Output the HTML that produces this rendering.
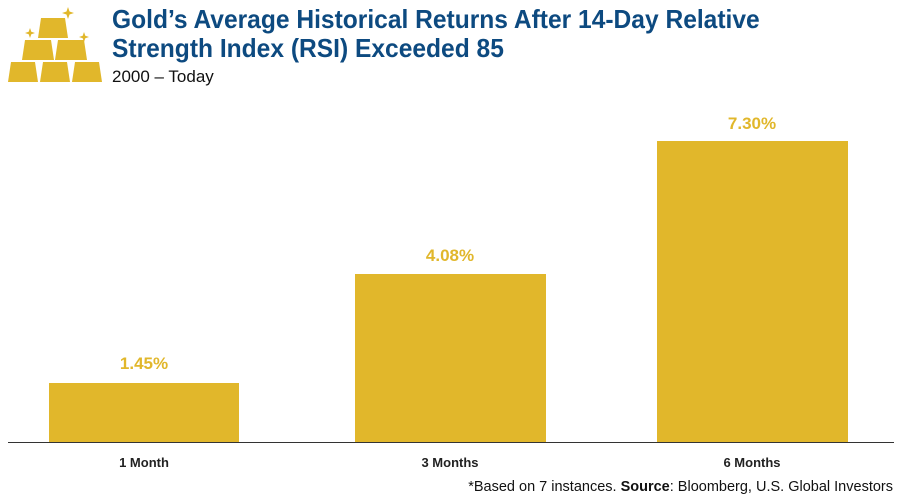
<!DOCTYPE html>
<html><head><style>
body{margin:0;width:900px;height:497px;background:#fff;position:relative;overflow:hidden;font-family:"Liberation Sans",sans-serif}
.t{position:absolute;left:112px;color:#0d4a80;font-family:"Liberation Sans",sans-serif;font-weight:bold;font-size:26px;white-space:nowrap;transform:scaleX(0.945);transform-origin:0 0}
.bar{position:absolute;background:#e1b72b;width:190px}
.v{position:absolute;width:190px;text-align:center;color:#e1b72b;font-weight:bold;font-size:17px}
.c{position:absolute;width:190px;text-align:center;font-size:13px;font-weight:bold;color:#222;top:455px}
</style></head><body>
<svg width="110" height="90" style="position:absolute;left:0;top:0">
<g fill="#e1b72b">
<polygon points="41,18 65,18 68,38 38,38"/>
<polygon points="25,40 51,40 54,60 22,60"/>
<polygon points="58,40 84,40 87,60 55,60"/>
<polygon points="11,62 35,62 38,82 8,82"/>
<polygon points="43,62 67,62 70,82 40,82"/>
<polygon points="75,62 99,62 102,82 72,82"/>
<path d="M68,7 L69.5,11.5 L74,13 L69.5,14.5 L68,19 L66.5,14.5 L62,13 L66.5,11.5Z"/>
<path d="M30,28 L31.3,31.7 L35,33 L31.3,34.3 L30,38 L28.7,34.3 L25,33 L28.7,31.7Z"/>
<path d="M84,32 L85.3,35.7 L89,37 L85.3,38.3 L84,42 L82.7,38.3 L79,37 L82.7,35.7Z"/>
</g></svg>
<div class="t" style="top:4px">Gold’s Average Historical Returns After 14-Day Relative</div>
<div class="t" style="top:33px">Strength Index (RSI) Exceeded 85</div>
<div style="position:absolute;left:112px;top:67px;font-size:17px;color:#111">2000 – Today</div>
<div class="bar" style="left:49px;top:383px;height:59px"></div>
<div class="bar" style="left:355px;top:274px;height:168px;width:191px"></div>
<div class="bar" style="left:657px;top:141px;height:301px;width:191px"></div>
<div class="v" style="left:49px;top:354px">1.45%</div>
<div class="v" style="left:355px;top:246px">4.08%</div>
<div class="v" style="left:657px;top:114px">7.30%</div>
<div style="position:absolute;left:8px;top:442px;width:886px;height:1px;background:#333"></div>
<div class="c" style="left:49px">1 Month</div>
<div class="c" style="left:355px">3 Months</div>
<div class="c" style="left:657px">6 Months</div>
<div style="position:absolute;right:7px;top:479px;font-size:14.5px;color:#111;white-space:nowrap">*Based on 7 instances. <b>Source</b>: Bloomberg, U.S. Global Investors</div>
</body></html>
